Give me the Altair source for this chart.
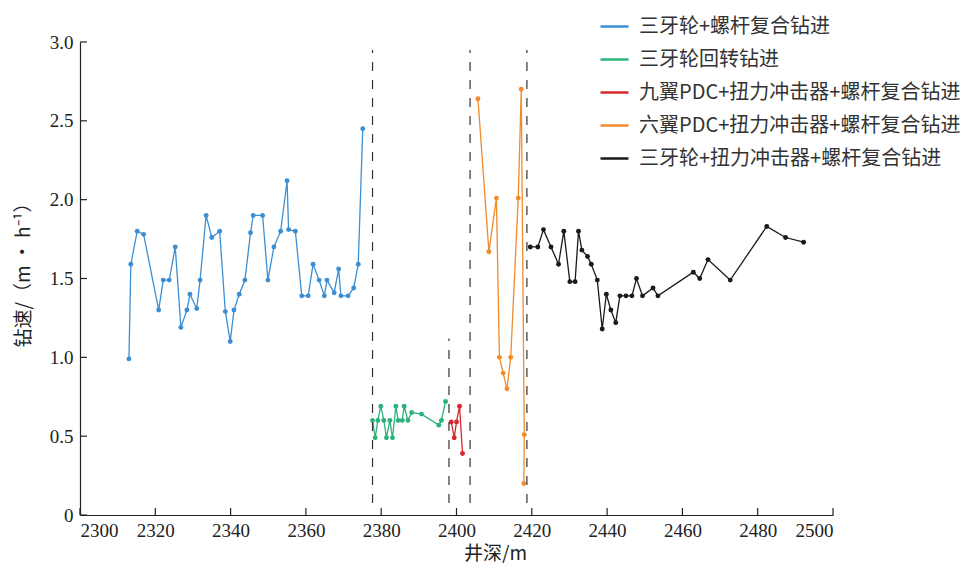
import altair as alt
import pandas as pd

names = ["三牙轮+螺杆复合钻进", "三牙轮回转钻进", "九翼PDC+扭力冲击器+螺杆复合钻进",
         "六翼PDC+扭力冲击器+螺杆复合钻进", "三牙轮+扭力冲击器+螺杆复合钻进"]
colors = ["#3d8fd4", "#2db37a", "#d9262c", "#f28b2c", "#1a1a1a"]

blue_depth = [2313.0, 2313.5, 2315.2, 2316.9, 2320.9, 2322.1, 2323.7, 2325.3, 2326.8, 2328.4,
              2329.2, 2331.0, 2331.9, 2333.5, 2335.0, 2337.1, 2338.6, 2339.9, 2340.9, 2342.3,
              2343.8, 2345.3, 2346.0, 2348.5, 2349.9, 2351.5, 2353.3, 2355.0, 2355.4, 2357.2,
              2358.9, 2360.6, 2361.9, 2363.5, 2364.9, 2365.6, 2367.5, 2368.7, 2369.3, 2371.2,
              2372.7, 2373.9, 2375.1]
blue_rate = [0.99, 1.59, 1.80, 1.78, 1.30, 1.49, 1.49, 1.70, 1.19, 1.30,
             1.40, 1.31, 1.49, 1.90, 1.76, 1.80, 1.29, 1.10, 1.30, 1.40,
             1.49, 1.79, 1.90, 1.90, 1.49, 1.70, 1.80, 2.12, 1.81, 1.80,
             1.39, 1.39, 1.59, 1.49, 1.39, 1.49, 1.41, 1.56, 1.39, 1.39,
             1.44, 1.59, 2.45]

green_depth = [2377.7, 2378.4, 2379.1, 2379.9, 2380.7, 2381.4, 2382.3, 2383.0, 2383.9, 2384.5,
               2385.6, 2386.1, 2387.1, 2388.1, 2390.7, 2395.3, 2396.0, 2397.1]
green_rate = [0.60, 0.49, 0.60, 0.69, 0.60, 0.49, 0.60, 0.49, 0.69, 0.60,
              0.60, 0.69, 0.60, 0.65, 0.64, 0.57, 0.60, 0.72]

red_depth = [2398.6, 2399.4, 2400.0, 2400.8, 2401.6]
red_rate = [0.59, 0.49, 0.59, 0.69, 0.39]

orange_depth = [2405.7, 2408.6, 2410.6, 2411.4, 2412.4, 2413.4, 2414.4, 2416.4, 2417.2, 2418.0, 2417.9]
orange_rate = [2.64, 1.67, 2.01, 1.00, 0.90, 0.80, 1.00, 2.01, 2.70, 0.51, 0.20]

black_depth = [2419.6, 2421.6, 2423.1, 2425.1, 2427.1, 2428.5, 2430.1, 2431.5, 2432.4, 2433.3,
               2434.8, 2435.8, 2437.4, 2438.7, 2439.8, 2441.0, 2442.3, 2443.4, 2445.0, 2446.6,
               2447.8, 2449.4, 2452.2, 2453.5, 2462.9, 2464.6, 2466.8, 2472.7, 2482.4, 2487.4,
               2492.2]
black_rate = [1.70, 1.70, 1.81, 1.70, 1.59, 1.80, 1.48, 1.48, 1.80, 1.68,
              1.64, 1.59, 1.49, 1.18, 1.40, 1.30, 1.22, 1.39, 1.39, 1.39,
              1.50, 1.39, 1.44, 1.39, 1.54, 1.50, 1.62, 1.49, 1.83, 1.76,
              1.73]

# vertical dashed separators (depth, bottom, top)
sep_depth = [2377.7, 2398.0, 2403.6, 2418.7]
sep_bottom = [0.076, 0.076, 0.076, 0.076]
sep_top = [2.95, 1.12, 2.95, 2.95]

x_ticks = [2300, 2320, 2340, 2360, 2380, 2400, 2420, 2440, 2460, 2480, 2500]
y_ticks = [0, 0.5, 1.0, 1.5, 2.0, 2.5, 3.0]

rows = []
for name, ds, rs in zip(names, [blue_depth, green_depth, red_depth, orange_depth, black_depth],
                        [blue_rate, green_rate, red_rate, orange_rate, black_rate]):
    for i, (d, r) in enumerate(zip(ds, rs)):
        rows.append({"series": name, "depth": d, "rate": r, "idx": i})
df = pd.DataFrame(rows)

sep_df = pd.DataFrame({"d": sep_depth, "b": sep_bottom, "t": sep_top})
xt_df = pd.DataFrame({"v": x_ticks})
yt_df = pd.DataFrame({"v": y_ticks})

CJK = "Noto Sans CJK SC"
NUM = "'Liberation Serif', 'DejaVu Serif', serif"

xscale = alt.Scale(domain=[2300, 2500], nice=False, zero=False)
yscale = alt.Scale(domain=[0, 3], nice=False, zero=True)
cscale = alt.Scale(domain=names, range=colors)

x_axis = alt.Axis(values=x_ticks, format="d", ticks=False, grid=False, domainColor="#222",
                  domainWidth=1.2, labelFont=NUM, labelFontSize=19, labelColor="#222",
                  labelPadding=6,
                  title="井深/m", titleFont=CJK, titleFontSize=19, titleFontWeight="normal",
                  titleColor="#222", titleX=415, titleY=44, titleBaseline="alphabetic")
y_axis = alt.Axis(values=y_ticks, ticks=False, grid=False, domainColor="#222", domainWidth=1.2,
                  labelFont=NUM, labelFontSize=19, labelColor="#222", labelPadding=7,
                  labelExpr="datum.value == 0 ? '0' : format(datum.value, '.1f')",
                  title="钻速/（m • h⁻¹）", titleFont=CJK, titleFontSize=19,
                  titleFontWeight="normal", titleColor="#222", titleX=-57, titleY=228,
                  titleAlign="center", titleBaseline="middle")

legend = alt.Legend(orient="none", legendX=519, legendY=-31, title=None,
                    symbolType="stroke", symbolSize=784, symbolStrokeWidth=2.5,
                    labelFont=CJK, labelFontSize=20, labelColor="#333", labelOffset=9,
                    labelLimit=500, rowPadding=7, padding=0)

lines = alt.Chart(df).mark_line(strokeWidth=1.3).encode(
    x=alt.X("depth:Q", scale=xscale, axis=x_axis),
    y=alt.Y("rate:Q", scale=yscale, axis=y_axis),
    color=alt.Color("series:N", scale=cscale, legend=legend, sort=names),
    order=alt.Order("idx:Q"),
    detail="series:N",
)
points = alt.Chart(df).mark_point(filled=True, size=24, opacity=1).encode(
    x=alt.X("depth:Q", scale=xscale, axis=x_axis),
    y=alt.Y("rate:Q", scale=yscale, axis=y_axis),
    color=alt.Color("series:N", scale=cscale, legend=None),
)
seps = alt.Chart(sep_df).mark_rule(strokeDash=[9, 9], color="#333", strokeWidth=1.2).encode(
    x=alt.X("d:Q", scale=xscale, axis=x_axis),
    y=alt.Y("b:Q", scale=yscale, axis=y_axis),
    y2="t:Q",
)
xt = alt.Chart(xt_df).mark_rule(color="#222", strokeWidth=1.2).encode(
    x=alt.X("v:Q", scale=xscale, axis=x_axis),
    y=alt.value(473), y2=alt.value(466),
)
yt = alt.Chart(yt_df).mark_rule(color="#222", strokeWidth=1.2).encode(
    y=alt.Y("v:Q", scale=yscale, axis=y_axis),
    x=alt.value(0), x2=alt.value(7),
)

chart = alt.layer(lines, points, seps, xt, yt).properties(
    width=753, height=473,
    autosize=alt.AutoSizeParams(type="none"),
    padding={"left": 72, "top": 34, "right": 130, "bottom": 48},
    background="white",
).configure_view(stroke=None)

chart.save("out.html", embed_options={"renderer": "svg", "actions": False})
